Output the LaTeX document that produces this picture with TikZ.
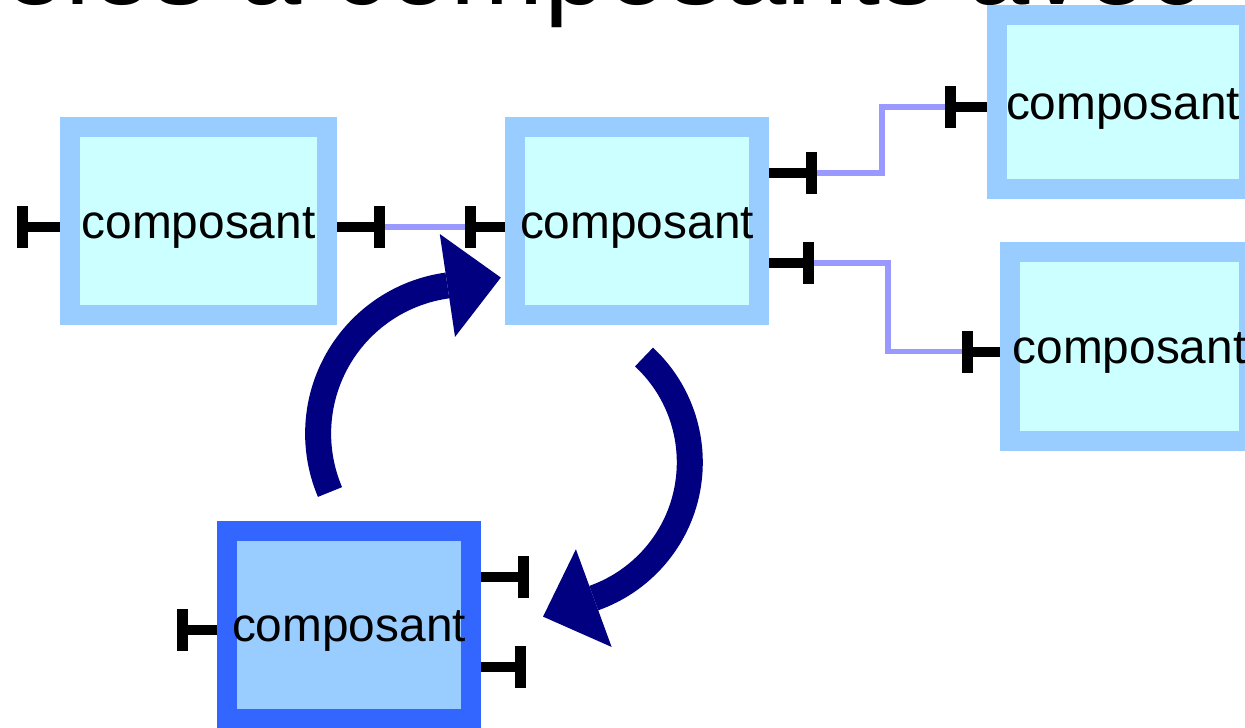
\documentclass[tikz,border=0pt]{standalone}
\usepackage{fontspec}
\setmainfont{Liberation Sans}
\usepackage{xcolor}
\usetikzlibrary{arrows.meta}

\definecolor{compBorder}{HTML}{99CCFF}
\definecolor{compFill}{HTML}{CCFFFF}
\definecolor{newBorder}{HTML}{3366FF}
\definecolor{wireBlue}{HTML}{9999FF}
\definecolor{swapNavy}{HTML}{000080}

\tikzset{
    comp/.style={draw=compBorder, fill=compFill, line width=4mm, inner sep=0pt,
        minimum height=37.6mm, text height=8.8mm, text depth=2mm,
        font=\fontsize{27.2}{30}\selectfont},
    newcomp/.style={comp, draw=newBorder, fill=compBorder},
    port/.style={draw=black, line width=2mm, -{Bar[width=8.4mm, line width=2.2mm]}},
    wire/.style={draw=wireBlue, line width=1.1mm},
    swaparrow/.style={draw=swapNavy, line width=5.2mm,
        -{Triangle[length=10.8mm, width=20.8mm, line width=0pt]}},
}

\begin{document}
\begin{tikzpicture}[x=0.2mm, y=-0.2mm]
        \useasboundingbox (0,0) rectangle (1245,728);
        \clip (0,0) rectangle (1245,728);

        \node[font=\fontsize{63.7}{70}\selectfont, inner sep=0pt, anchor=base west] (title) at (-215,4) {Modèles à composants avec};

        \node[comp, minimum width=51.4mm] (c1) at (198.5,221) {composant};
        \node[comp, minimum width=48.8mm] (c2) at (637,221) {composant};
        \node[comp, minimum width=50.4mm, minimum height=34.8mm] (c3) at (1123,102) {composant};
        \node[comp, minimum width=47.8mm, minimum height=37.8mm] (c4) at (1129.5,346.5) {composant};
        \node[newcomp, minimum width=48.6mm] (c5) at (349,624.5) {composant};

        % ports
        \draw[port] (c1.west) ++(0,6) -- ++(-43,0);
        \draw[port] (c1.east) ++(0,6) -- ++(48,0) coordinate (p1r);
        \draw[port] (c2.west) ++(0,6) -- ++(-40,0) coordinate (p2l);
        \draw[port] (c2.east) ++(0,-48) -- ++(48,0) coordinate (p2a);
        \draw[port] (c2.east) ++(0,42) -- ++(45,0) coordinate (p2b);
        \draw[port] (c3.west) ++(0,5) -- ++(-42,0) coordinate (p3l);
        \draw[port] (c4.west) ++(0,5) -- ++(-38,0) coordinate (p4l);
        \draw[port] (c5.west) ++(0,5.5) -- ++(-40,0);
        \draw[port] (c5.east) ++(0,-47.5) -- ++(48,0);
        \draw[port] (c5.east) ++(0,42.5) -- ++(45,0);

        % bindings
        \draw[wire] (p1r) -- (p2l);
        \draw[wire] (p2a) -- ++(65,0) |- (p3l);
        \draw[wire] (p2b) -- ++(74,0) |- (p4l);

        % swap
        \draw[swaparrow] (330,492) arc[start angle=157, end angle=262, radius=149.5] -- ++(54,-8);
        \draw[swaparrow] (644,357) arc[start angle=-47, end angle=70, radius=144] -- ++(-52,19);
    \end{tikzpicture}
\end{document}
